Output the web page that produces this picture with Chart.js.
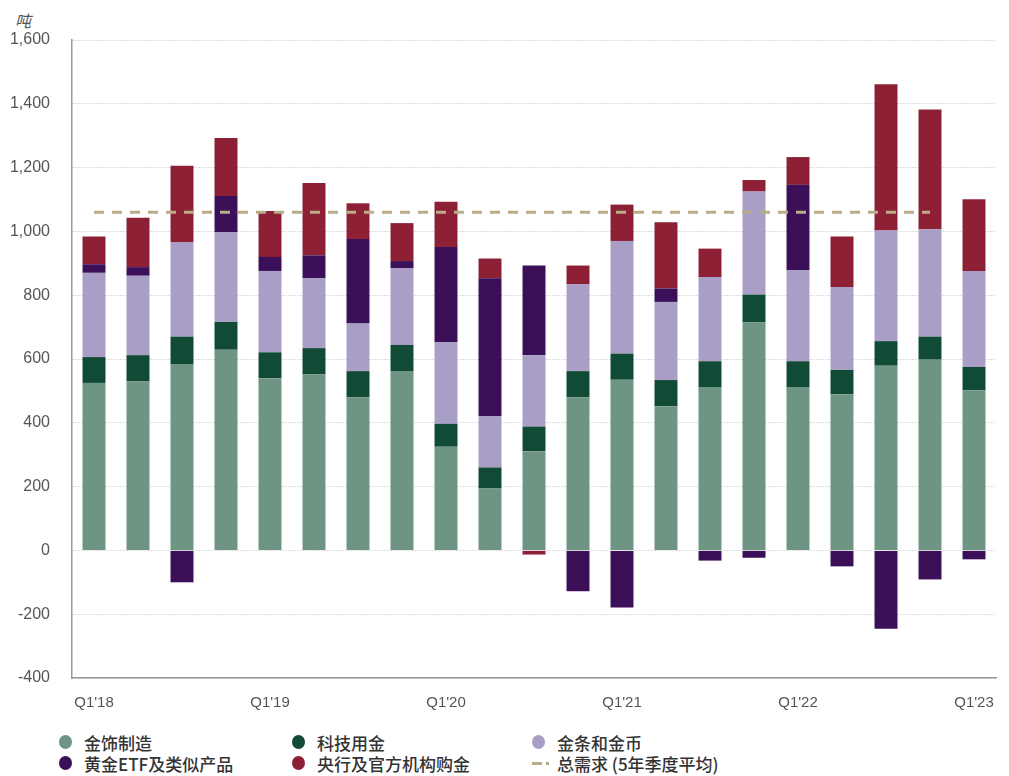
<!DOCTYPE html>
<html>
<head>
<meta charset="utf-8">
<script src="https://cdn.jsdelivr.net/npm/chart.js@4"></script>
<style>
    body { margin: 0; background: #fff; font-family: "Liberation Sans", Arial, sans-serif; }
    #wrap { position: relative; width: 1009px; height: 776px; }
    #chartBox { position: absolute; left: 0; top: 0; width: 1009px; height: 727px; }
    #unit { position: absolute; left: 15px; top: 8px; font-size: 16px; font-style: italic; color: #555;
        font-family: "Noto Sans CJK SC", sans-serif; }
    #legend { position: absolute; left: 59px; top: 731px; width: 720px; }
    .item { position: absolute; display: flex; align-items: center; font-size: 17px; font-weight: 500; color: #333;
        font-family: "Noto Sans CJK SC", sans-serif; white-space: nowrap; height: 22px; }
    .dot { width: 13px; height: 14px; border-radius: 50%; margin-right: 12px; }
    .dashmark { width: 25px; display: flex; align-items: center; }
    .dashmark i { display: block; height: 3px; }
</style>
</head>
<body>
<div id="wrap">
    <div id="unit">吨</div>
    <div id="chartBox"><canvas id="demandChart"></canvas></div>
    <div id="legend"></div>
</div>
<script>
const quarters = ["Q1'18", "Q2'18", "Q3'18", "Q4'18", "Q1'19", "Q2'19", "Q3'19", "Q4'19",
    "Q1'20", "Q2'20", "Q3'20", "Q4'20", "Q1'21", "Q2'21", "Q3'21", "Q4'21",
    "Q1'22", "Q2'22", "Q3'22", "Q4'22", "Q1'23"];

// tonnes
const jewellery = [525, 530, 584, 629, 540, 552, 480, 562, 325, 194, 311, 480, 535, 452, 512, 715, 512, 489, 579, 598, 502];
const technology = [81, 82, 86, 87, 81, 82, 82, 82, 72, 66, 77, 82, 82, 82, 81, 87, 81, 77, 77, 72, 73];
const barCoin = [264, 249, 295, 282, 255, 219, 149, 240, 256, 161, 224, 272, 353, 245, 264, 323, 286, 260, 347, 337, 301];
const etfs = [27, 27, -100, 113, 44, 72, 265, 23, 298, 432, 281, -128, -179, 42, -32, -23, 267, -50, -246, -91, -28];
const centralBanks = [87, 155, 241, 182, 144, 227, 112, 119, 142, 62, -13, 59, 114, 208, 89, 36, 87, 158, 458, 375, 225];
const avgDemand = [1060, 1060, 1060, 1060, 1060, 1060, 1060, 1060, 1060, 1060, 1060, 1060, 1060, 1060,
    1060, 1060, 1060, 1060, 1060, 1060, null];

const yTicks = [-400, -200, 0, 200, 400, 600, 800, 1000, 1200, 1400, 1600];

const series = [
    { label: "金饰制造", data: jewellery, color: "#6e9583" },
    { label: "科技用金", data: technology, color: "#114a35" },
    { label: "金条和金币", data: barCoin, color: "#a89ec6" },
    { label: "黄金ETF及类似产品", data: etfs, color: "#3b1058" },
    { label: "央行及官方机构购金", data: centralBanks, color: "#8e2036" }
];
const avgLabel = "总需求 (5年季度平均)";
const avgColor = "#b9ad88";

const datasets = series.map(s => ({
    type: "bar",
    label: s.label,
    data: s.data,
    backgroundColor: s.color,
    stack: "demand",
    order: 1,
    barPercentage: 0.9,
    categoryPercentage: 0.58
}));
datasets.push({
    type: "line",
    label: avgLabel,
    data: avgDemand,
    borderColor: avgColor,
    borderWidth: 3,
    borderDash: [10, 8],
    pointRadius: 0,
    fill: false,
    stack: "avg",
    order: 0
});

new Chart(document.getElementById("demandChart"), {
    data: { labels: quarters, datasets: datasets },
    options: {
        responsive: true,
        maintainAspectRatio: false,
        animation: false,
        layout: { padding: { top: 40, right: 13, bottom: 7, left: 0 } },
        plugins: { legend: { display: false }, tooltip: { enabled: false } },
        scales: {
            x: {
                stacked: true,
                grid: { display: false },
                border: { display: true, color: "#999", width: 1.5 },
                ticks: {
                    autoSkip: false,
                    maxRotation: 0,
                    padding: 8,
                    color: "#555",
                    font: { size: 15, family: "Liberation Sans, Arial, sans-serif" },
                    callback: function(val, i) { return i % 4 === 0 ? quarters[i] : ""; }
                }
            },
            y: {
                stacked: true,
                min: -400,
                max: 1600,
                afterBuildTicks: function(scale) { scale.ticks = yTicks.map(v => ({ value: v })); },
                afterFit: function(scale) { scale.width = 72; },
                grid: { color: "#bbb", lineWidth: 1, drawTicks: false },
                border: { display: true, color: "#999", width: 1.5, dash: [1, 2] },
                ticks: {
                    padding: 22,
                    color: "#555",
                    font: { size: 16, family: "Liberation Sans, Arial, sans-serif" },
                    callback: v => v.toLocaleString("en-US")
                }
            }
        }
    }
});

// legend drawn as html, 3 columns x 2 rows like the original
const legend = document.getElementById("legend");
const colLeft = [0, 233, 473];
const legendItems = [series[0], series[1], series[2], series[3], series[4], { label: avgLabel, color: avgColor, line: true }];
legendItems.forEach((it, i) => {
    const el = document.createElement("div");
    el.className = "item";
    el.style.left = colLeft[i % 3] + "px";
    el.style.top = Math.floor(i / 3) * 21 + "px";
    const mark = document.createElement("span");
    if (it.line) {
        mark.className = "dashmark";
        mark.innerHTML = '<i style="width:10px"></i><i style="width:3px;margin-left:4px"></i>';
        mark.querySelectorAll("i").forEach(d => d.style.background = it.color);
    } else {
        mark.className = "dot";
        mark.style.background = it.color;
    }
    el.appendChild(mark);
    el.appendChild(document.createTextNode(it.label));
    legend.appendChild(el);
});
</script>
</body>
</html>
